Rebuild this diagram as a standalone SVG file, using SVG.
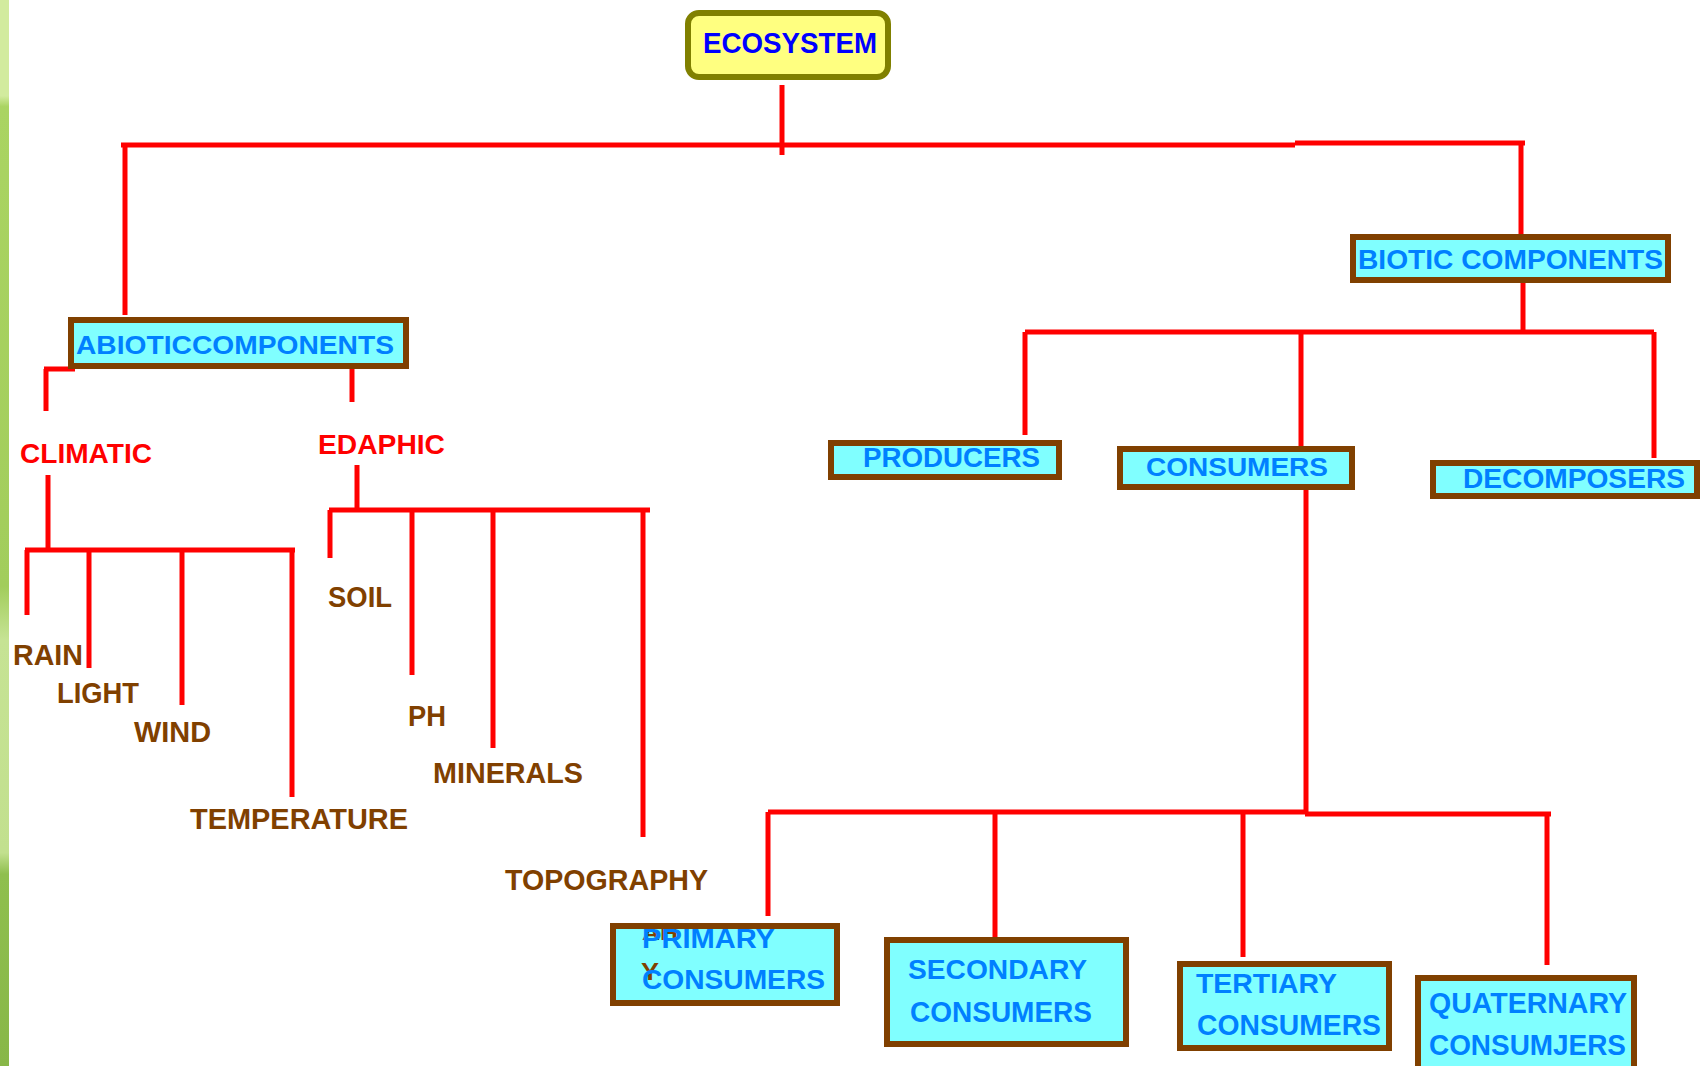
<svg xmlns="http://www.w3.org/2000/svg" width="1703" height="1066" viewBox="0 0 1703 1066">
<style>
.box{fill:#80ffff;stroke:#804000;stroke-width:6}
.root{fill:#ffff80;stroke:#808000;stroke-width:6}
.t{font-family:"Liberation Sans",Arial,sans-serif;font-weight:bold}
.bt{fill:#0080ff}
.rt{fill:#ff0000}
.br{fill:#804000}
.c{stroke:#ff0000;stroke-width:5;fill:none;stroke-linecap:butt}
</style>
<defs>
<linearGradient id="g" x1="0" y1="0" x2="0" y2="1">
<stop offset="0" stop-color="#d2eb9e"/>
<stop offset="0.09" stop-color="#d2eb9e"/>
<stop offset="0.1" stop-color="#aad462"/>
<stop offset="0.55" stop-color="#a2cd5c"/>
<stop offset="0.6" stop-color="#c6e394"/>
<stop offset="0.8" stop-color="#c2e08e"/>
<stop offset="0.82" stop-color="#8fbf4e"/>
<stop offset="1" stop-color="#88b748"/>
</linearGradient>
</defs>
<rect x="0" y="0" width="1703" height="1066" fill="#ffffff"/>
<rect x="0" y="0" width="9" height="1066" fill="url(#g)"/>
<g id="connectors">
<path class="c" d="M782 85V155"/>
<path class="c" d="M121 145H1295"/>
<path class="c" d="M1295 143H1525"/>
<path class="c" d="M125 145V315"/>
<path class="c" d="M1521 143V235"/>
<path class="c" d="M44 369H75M46 369V411"/>
<path class="c" d="M352 368V402"/>
<path class="c" d="M48 475V550"/>
<path class="c" d="M25 550H295"/>
<path class="c" d="M27 550V615M89 550V668M182 550V705M292 550V797"/>
<path class="c" d="M357 465V510"/>
<path class="c" d="M329 510H650"/>
<path class="c" d="M330 510V558M412 510V675M493 510V748M643 510V837"/>
<path class="c" d="M1523 283V332"/>
<path class="c" d="M1025 332H1654"/>
<path class="c" d="M1025 332V435M1301 332V447M1654 332V458"/>
<path class="c" d="M1306 490V812"/>
<path class="c" d="M768 812H1305"/>
<path class="c" d="M1305 814H1551"/>
<path class="c" d="M768 812V916M995 812V947M1243 812V957M1547 814V965"/>
</g>
<g id="ecosystem">
<rect class="root" x="688" y="13" width="200" height="64" rx="11"/>
<text class="t" x="703" y="53" font-size="29" fill="#0000ff" textLength="174" lengthAdjust="spacingAndGlyphs">ECOSYSTEM</text>
</g>
<g id="abiotic">
<rect class="box" x="71" y="320" width="335" height="46"/>
<text class="t bt" x="76" y="354" font-size="26" textLength="318" lengthAdjust="spacingAndGlyphs">ABIOTICCOMPONENTS</text>
</g>
<g id="biotic">
<rect class="box" x="1353" y="237" width="315" height="43"/>
<text class="t bt" x="1358" y="269" font-size="28" textLength="305" lengthAdjust="spacingAndGlyphs">BIOTIC COMPONENTS</text>
</g>
<g id="producers">
<rect class="box" x="831" y="443" width="228" height="34"/>
<text class="t bt" x="863" y="467" font-size="27" textLength="177" lengthAdjust="spacingAndGlyphs">PRODUCERS</text>
</g>
<g id="consumers">
<rect class="box" x="1120" y="449" width="232" height="38"/>
<text class="t bt" x="1146" y="476" font-size="26" textLength="182" lengthAdjust="spacingAndGlyphs">CONSUMERS</text>
</g>
<g id="decomposers">
<rect class="box" x="1433" y="463" width="264" height="33"/>
<text class="t bt" x="1463" y="488" font-size="27" textLength="222" lengthAdjust="spacingAndGlyphs">DECOMPOSERS</text>
</g>
<g id="climatic">
<text class="t rt" x="20" y="463" font-size="27" textLength="132" lengthAdjust="spacingAndGlyphs">CLIMATIC</text>
</g>
<g id="edaphic">
<text class="t rt" x="318" y="454" font-size="28" textLength="127" lengthAdjust="spacingAndGlyphs">EDAPHIC</text>
</g>
<g id="rain"><text class="t br" x="13" y="665" font-size="30" textLength="70" lengthAdjust="spacingAndGlyphs">RAIN</text></g>
<g id="light"><text class="t br" x="57" y="703" font-size="30" textLength="82" lengthAdjust="spacingAndGlyphs">LIGHT</text></g>
<g id="wind"><text class="t br" x="134" y="742" font-size="30" textLength="77" lengthAdjust="spacingAndGlyphs">WIND</text></g>
<g id="temperature"><text class="t br" x="190" y="829" font-size="30" textLength="218" lengthAdjust="spacingAndGlyphs">TEMPERATURE</text></g>
<g id="soil"><text class="t br" x="328" y="607" font-size="29" textLength="64" lengthAdjust="spacingAndGlyphs">SOIL</text></g>
<g id="ph"><text class="t br" x="408" y="726" font-size="29" textLength="38" lengthAdjust="spacingAndGlyphs">PH</text></g>
<g id="minerals"><text class="t br" x="433" y="783" font-size="29" textLength="150" lengthAdjust="spacingAndGlyphs">MINERALS</text></g>
<g id="topography"><text class="t br" x="505" y="890" font-size="30" textLength="203" lengthAdjust="spacingAndGlyphs">TOPOGRAPHY</text></g>
<g id="primary">
<rect class="box" x="613" y="926" width="224" height="77"/>
<text class="t br" x="642" y="940" font-size="20" textLength="36" lengthAdjust="spacingAndGlyphs">AH</text>
<text class="t br" x="641" y="980" font-size="24" textLength="18" lengthAdjust="spacingAndGlyphs">Y</text>
<text class="t bt" x="642" y="948" font-size="27" textLength="133" lengthAdjust="spacingAndGlyphs">PRIMARY</text>
<text class="t bt" x="642" y="989" font-size="28" textLength="183" lengthAdjust="spacingAndGlyphs">CONSUMERS</text>
</g>
<g id="secondary">
<rect class="box" x="887" y="940" width="239" height="104"/>
<text class="t bt" x="908" y="979" font-size="28" textLength="179" lengthAdjust="spacingAndGlyphs">SECONDARY</text>
<text class="t bt" x="910" y="1022" font-size="29" textLength="182" lengthAdjust="spacingAndGlyphs">CONSUMERS</text>
</g>
<g id="tertiary">
<rect class="box" x="1180" y="964" width="209" height="84"/>
<text class="t bt" x="1196" y="993" font-size="28" textLength="141" lengthAdjust="spacingAndGlyphs">TERTIARY</text>
<text class="t bt" x="1197" y="1035" font-size="29" textLength="184" lengthAdjust="spacingAndGlyphs">CONSUMERS</text>
</g>
<g id="quaternary">
<rect class="box" x="1418" y="978" width="216" height="100"/>
<text class="t bt" x="1429" y="1013" font-size="29" textLength="198" lengthAdjust="spacingAndGlyphs">QUATERNARY</text>
<text class="t bt" x="1429" y="1055" font-size="29" textLength="197" lengthAdjust="spacingAndGlyphs">CONSUMJERS</text>
</g>
</svg>
